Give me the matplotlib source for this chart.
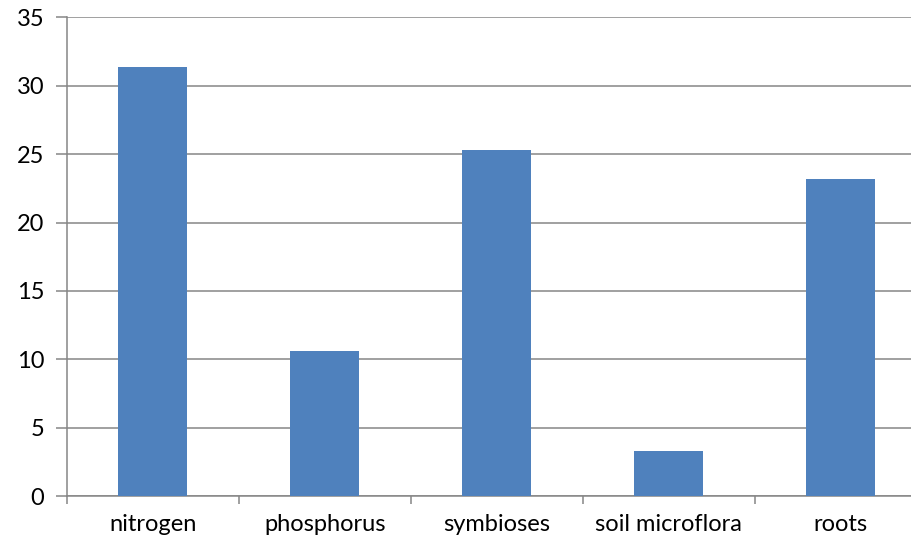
import numpy as np
from matplotlib import pyplot as plt

categories = ['nitrogen', 'phosphorus', 'symbioses', 'soil microflora', 'roots']
values = [31.4, 10.6, 25.3, 3.3, 23.2]
y_ticks = [0, 5, 10, 15, 20, 25, 30, 35]

plt.rcParams['font.family'] = ['Lato', 'DejaVu Sans']

fig = plt.figure(figsize=(9.12, 5.45), dpi=100)
# plot area runs past the right edge of the image, like the original
ax = fig.add_axes([0.0731, 0.0899, 0.943, 0.878])

x = np.arange(len(categories))
ax.bar(x, values, width=0.4, color='#4F81BD', zorder=3)

ax.set_xlim(-0.5, len(categories) - 0.5)
ax.set_ylim(0, 35)
ax.set_yticks(y_ticks)
ax.yaxis.grid(True, color='#868686', linewidth=1.1, zorder=0)

ax.set_xticks(x)
ax.set_xticklabels(categories)
ax.set_xticks(np.arange(len(categories) + 1) - 0.5, minor=True)
ax.tick_params(axis='x', which='major', length=0, pad=13, labelsize=17)
ax.tick_params(axis='x', which='minor', length=6, width=1.1, color='#868686', direction='out')
ax.tick_params(axis='y', length=8, width=1.1, color='#868686', pad=8, labelsize=17)

for side in ['top', 'right']:
    ax.spines[side].set_visible(False)
for side in ['left', 'bottom']:
    ax.spines[side].set_color('#868686')
    ax.spines[side].set_linewidth(1.1)

fig.savefig('out.png', dpi=100)
